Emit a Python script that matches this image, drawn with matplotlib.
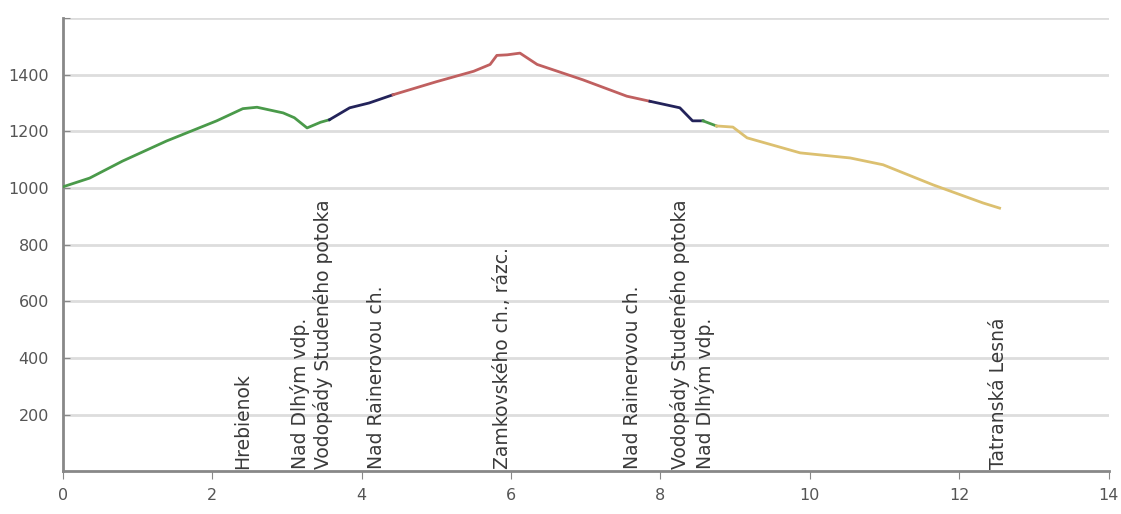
import matplotlib
matplotlib.use('Agg')
import matplotlib.pyplot as plt

# úseky profilu trasy (km, m n. m.)
green1_x = [0.0, 0.36, 0.8, 1.39, 2.06, 2.41, 2.6, 2.95, 3.1, 3.27, 3.45, 3.57]
green1_y = [1004, 1035, 1095, 1166, 1237, 1280, 1285, 1265, 1248, 1212, 1232, 1241]
blue1_x = [3.57, 3.84, 4.1, 4.42]
blue1_y = [1241, 1283, 1300, 1329]
red_x = [4.42, 5.0, 5.5, 5.72, 5.81, 5.95, 6.12, 6.35, 6.96, 7.55, 7.86]
red_y = [1329, 1375, 1412, 1436, 1468, 1470, 1476, 1436, 1382, 1324, 1306]
blue2_x = [7.86, 8.26, 8.43, 8.57]
blue2_y = [1306, 1283, 1237, 1237]
green2_x = [8.57, 8.75]
green2_y = [1237, 1219]
yellow_x = [8.75, 8.97, 9.16, 9.87, 10.54, 10.98, 11.65, 12.32, 12.54]
yellow_y = [1219, 1215, 1177, 1124, 1106, 1082, 1011, 947, 929]

segments = [
    (green1_x, green1_y, '#4a9a4a'),
    (blue1_x, blue1_y, '#23235a'),
    (red_x, red_y, '#c06060'),
    (blue2_x, blue2_y, '#23235a'),
    (green2_x, green2_y, '#4a9a4a'),
    (yellow_x, yellow_y, '#dcc070'),
]

# zastávky
stop_km = [2.41, 3.17, 3.48, 4.2, 5.89, 7.63, 8.26, 8.6, 12.52]
stop_names = ['Hrebienok', 'Nad Dlhým vdp.', 'Vodopády Studeného potoka',
              'Nad Rainerovou ch.', 'Zamkovského ch., rázc.', 'Nad Rainerovou ch.',
              'Vodopády Studeného potoka', 'Nad Dlhým vdp.', 'Tatranská Lesná']

y_ticks = [200, 400, 600, 800, 1000, 1200, 1400, 1600]
y_labels = ['200', '400', '600', '800', '1000', '1200', '1400', '']
x_ticks = [0, 2, 4, 6, 8, 10, 12, 14]

fig = plt.figure(figsize=(11.21, 5.14), dpi=100)
ax = fig.add_axes([0.056, 0.083, 0.933, 0.882])

for xs, ys, c in segments:
    ax.plot(xs, ys, color=c, linewidth=2, zorder=3)

for km, name in zip(stop_km, stop_names):
    ax.text(km, 10, name, rotation=90, ha='center', va='bottom',
            fontsize=13.5, color='#3a3a3a', zorder=4)

ax.set_xlim(0, 14)
ax.set_ylim(0, 1600)
ax.set_xticks(x_ticks)
ax.set_yticks(y_ticks)
ax.set_yticklabels(y_labels)
ax.yaxis.grid(True, color='#dddddd', linewidth=2)
ax.set_axisbelow(True)

for s in ['top', 'right']:
    ax.spines[s].set_visible(False)
for s in ['left', 'bottom']:
    ax.spines[s].set_color('#888888')
    ax.spines[s].set_linewidth(2)

ax.tick_params(axis='y', direction='in', length=5, color='#888888', labelsize=11.5,
               labelcolor='#555555', pad=10)
ax.tick_params(axis='x', direction='out', length=6, color='#888888', labelsize=11.5,
               labelcolor='#555555', pad=6)

fig.savefig('out.png', dpi=100)
